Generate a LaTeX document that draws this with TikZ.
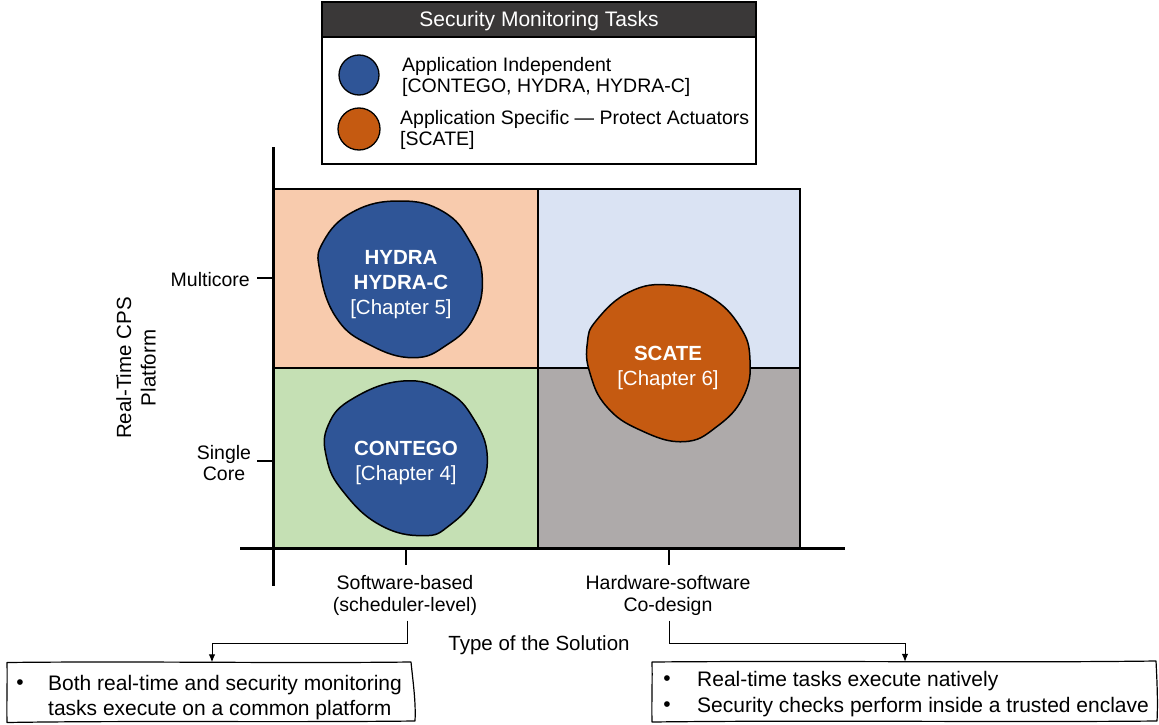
\documentclass[tikz,border=0pt]{standalone}
\usepackage{fontspec}
\setmainfont{Liberation Sans}
\usetikzlibrary{arrows.meta}

\definecolor{blobblue}{HTML}{2F5597}
\definecolor{bloborange}{HTML}{C55A11}
\definecolor{peach}{HTML}{F8CBAD}
\definecolor{paleblue}{HTML}{DAE3F3}
\definecolor{palegreen}{HTML}{C5E0B4}
\definecolor{warmgray}{HTML}{AEAAAA}
\definecolor{headdark}{HTML}{3A3838}

\begin{document}
\begin{tikzpicture}[x=1pt,y=-1pt,
  txt/.style={font=\fontsize{19.5}{21.5}\selectfont, inner sep=0pt},
  bigtxt/.style={font=\fontsize{21}{25.5}\selectfont, inner sep=0pt},
  blobtxt/.style={font=\fontsize{20.5}{25}\selectfont, text=white, align=center, inner sep=0pt},
  quad/.style={draw=black, line width=1.2pt},
  blob/.style={draw=black, line width=1.5pt},
  axis/.style={line width=3pt},
  tick/.style={line width=2.5pt},
  conn/.style={line width=1pt, -{Latex[length=8pt,width=6.5pt]}},
  sketch/.style={line width=1.2pt, line join=round},
  legdot/.style={circle, draw=black, line width=1.3pt, inner sep=0pt}]

\useasboundingbox (0,0) rectangle (1159,725);

% ---------- legend ----------
\fill[headdark] (322,2) rectangle (756,37);
\draw[line width=1.3pt] (322,2) rectangle (756,164);
\draw[line width=1.3pt] (322,37) -- (756,37);
\node[bigtxt, text=white] (legtitle) at (539,21) {Security Monitoring Tasks};
\node[legdot, fill=blobblue, minimum size=40pt] (dotblue) at (359,75) {};
\node[legdot, fill=bloborange, minimum size=42pt] (dotorange) at (359,129) {};
\node[txt, anchor=west] (legA1) at (402,66) {Application Independent};
\node[txt, anchor=west] (legA2) at (402,87) {[CONTEGO, HYDRA, HYDRA-C]};
\node[txt, anchor=west] (legB1) at (400,119) {Application Specific — Protect Actuators};
\node[txt, anchor=west] (legB2) at (400,140) {[SCATE]};

% ---------- quadrants ----------
\filldraw[quad, fill=peach]     (273,189) rectangle (538,368);
\filldraw[quad, fill=paleblue]  (538,189) rectangle (800,368);
\filldraw[quad, fill=palegreen] (273,368) rectangle (538,548);
\filldraw[quad, fill=warmgray]  (538,368) rectangle (800,548);

% ---------- blobs ----------
\filldraw[blob, fill=blobblue] plot[smooth cycle, tension=0.75] coordinates {
  (323.3,241.7) (353.3,211.7) (400,201) (443.3,211.7) (470,241.7) (482.3,278.3)
  (473.3,318.3) (446.7,345) (413.3,357.7) (370,345) (336.7,318.3) (320,271.7)};
\filldraw[blob, fill=blobblue] plot[smooth cycle, tension=0.75] coordinates {
  (353.3,398.3) (403.3,381) (446.7,391.7) (473.3,418.3) (487.3,456.7) (476.7,495)
  (450,525) (423.3,535.7) (380,525) (343.3,491.7) (326.7,458.3) (328.3,425)};
\filldraw[blob, fill=bloborange] plot[smooth cycle, tension=0.75] coordinates {
  (596.7,320) (630,291.7) (670,285) (710,296.7) (740,326.7) (750,360)
  (743.3,396.7) (716.7,426.7) (683.3,441.7) (640,430) (606.7,406.7) (590,373.3) (587.3,343.3)};

\node[blobtxt] (hydra) at (401,284.5) {\textbf{HYDRA}\\\textbf{HYDRA-C}\\{[}Chapter 5{]}};
\node[blobtxt] (contego) at (406,462.5) {\textbf{CONTEGO}\\{[}Chapter 4{]}};
\node[blobtxt] (scate) at (668,367.5) {\textbf{SCATE}\\{[}Chapter 6{]}};

% ---------- axes and ticks ----------
\draw[axis] (273,147) -- (273,586);
\draw[axis] (240,548) -- (845,548);
\draw[tick] (257,278) -- (273,278);
\draw[tick] (257,461) -- (273,461);
\draw[tick] (406,548) -- (406,565);
\draw[tick] (669,548) -- (669,565);

% ---------- axis labels ----------
\node[txt, anchor=east] (multi) at (250,280) {Multicore};
\node[txt, align=center] (single) at (224,463) {Single\\Core};
\node[txt, font=\fontsize{20.5}{24.5}\selectfont, rotate=90, align=center] (ytitle) at (136,368) {Real-Time CPS\\Platform};
\node[txt, align=center] (swl) at (405,595.5) {Software-based\\(scheduler-level)};
\node[txt, align=center] (hwl) at (668,595.5) {Hardware-software\\Co-design};
\node[txt, font=\fontsize{20.5}{24}\selectfont] (xtitle) at (539,645) {Type of the Solution};

% ---------- note boxes ----------
\node[minimum width=408pt, minimum height=60pt, inner sep=0pt] (lbox) at (212,692.5) {};
\node[minimum width=505pt, minimum height=60pt, inner sep=0pt] (rbox) at (905,692) {};

\draw[sketch] (7,662.5) .. controls (140,661) and (280,663.5) .. (411,662)
  .. controls (413,682) and (416,702) .. (415,721)
  .. controls (280,722.5) and (130,720.5) .. (7,722.5)
  .. controls (6.5,702) and (7.5,682) .. (7,662.5) -- cycle;
\draw[sketch] (652,662) .. controls (820,660.5) and (1000,663) .. (1156,661)
  .. controls (1157,681) and (1158,702) .. (1157,721)
  .. controls (1000,722.5) and (820,720) .. (652,722)
  .. controls (651.5,702) and (652.5,682) .. (652,662) -- cycle;

\node[bigtxt] (lb1) at (20,685) {\textbullet};
\node[bigtxt, anchor=west] (lt1) at (48,685) {Both real-time and security monitoring};
\node[bigtxt, anchor=west] (lt2) at (48,710) {tasks execute on a common platform};
\node[bigtxt] (rb1) at (667,681) {\textbullet};
\node[bigtxt, anchor=west] (rt1) at (697,681) {Real-time tasks execute natively};
\node[bigtxt] (rb2) at (667,707) {\textbullet};
\node[bigtxt, anchor=west] (rt2) at (697,707) {Security checks perform inside a trusted enclave};

% ---------- connectors ----------
\draw[conn] ([xshift=2pt,yshift=-5pt]swl.south) -- ++(0,23) -| (lbox.north);
\draw[conn] ([xshift=1pt,yshift=-5pt]hwl.south) -- ++(0,23) -| (rbox.north);

\end{tikzpicture}
\end{document}
